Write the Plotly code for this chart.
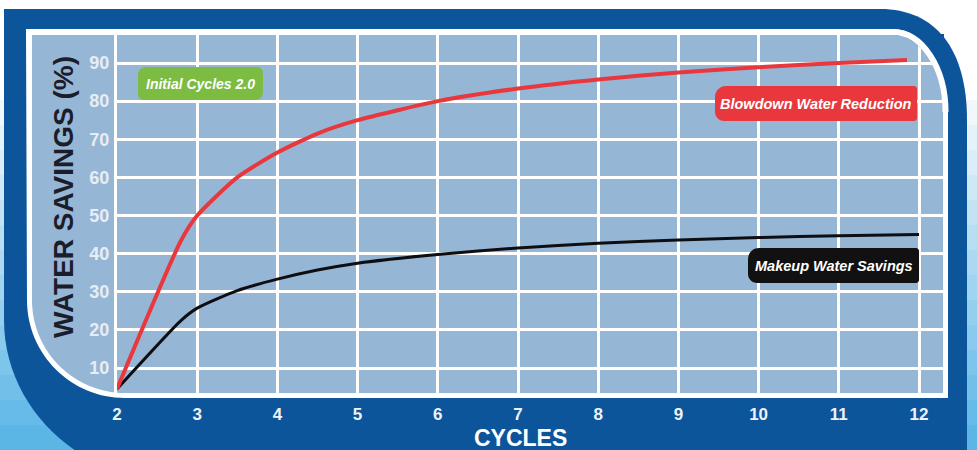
import plotly.graph_objects as go

# ---------------- data ----------------
cycles_blowdown = [2, 2.8, 3, 3.5, 4, 4.5, 5, 6, 7, 8, 9, 10, 11, 11.85]
blowdown_reduction = [4.5, 43.5, 50, 60, 66.5, 71.5, 75, 80, 83.3, 85.7, 87.5, 88.9, 90, 90.8]
cycles_makeup = [2, 2.8, 3, 3.5, 4, 4.5, 5, 6, 7, 8, 9, 10, 11, 12]
makeup_savings = [4.5, 22.5, 25.7, 30.3, 33.3, 35.7, 37.5, 39.8, 41.5, 42.7, 43.6, 44.2, 44.7, 45]
x_ticks = [2, 3, 4, 5, 6, 7, 8, 9, 10, 11, 12]
y_ticks = [10, 20, 30, 40, 50, 60, 70, 80, 90]
label_initial = "Initial Cycles 2.0"
label_blowdown = "Blowdown Water Reduction"
label_makeup = "Makeup Water Savings"
x_title = "CYCLES"
y_title = "WATER SAVINGS (%)"

# ---------------- geometry helpers (pixel -> paper) ----------------
W, H = 977, 450
L, R, T, B = 117, 943, 35, 393
DARK = "#0d559b"
PLOT = "#96b6d5"
K = 0.5523


def px(x):
    return (x - L) / (R - L)


def py(y):
    return (B - y) / (B - T)


def P(x, y):
    return f"{px(x):.5f},{py(y):.5f}"


def arc(cx, cy, sx, sy, ex, ey, k=K):
    # quarter arc from S to E around centre C, as a cubic Bezier
    ux, uy = sx - cx, sy - cy
    vx, vy = ex - cx, ey - cy
    c1 = (sx + k * vx, sy + k * vy)
    c2 = (ex + k * ux, ey + k * uy)
    return f" C{P(*c1)} {P(*c2)} {P(ex, ey)}"


def rrect(x0, y0, x1, y1, r_tl, r_tr, r_br, r_bl):
    s = f"M{P(x0 + r_tl, y0)} L{P(x1 - r_tr, y0)}"
    if r_tr:
        s += arc(x1 - r_tr, y0 + r_tr, x1 - r_tr, y0, x1, y0 + r_tr)
    s += f" L{P(x1, y1 - r_br)}"
    if r_br:
        s += arc(x1 - r_br, y1 - r_br, x1, y1 - r_br, x1 - r_br, y1)
    s += f" L{P(x0 + r_bl, y1)}"
    if r_bl:
        s += arc(x0 + r_bl, y1 - r_bl, x0 + r_bl, y1, x0, y1 - r_bl)
    s += f" L{P(x0, y0 + r_tl)}"
    if r_tl:
        s += arc(x0 + r_tl, y0 + r_tl, x0, y0 + r_tl, x0 + r_tl, y0)
    return s + " Z"


shapes = []

# background gradient (white at top -> sky blue at bottom)
c_top = (247, 250, 252)
c_bot = (86, 180, 230)
n = 14
for i in range(n):
    y0 = 100 + i * 25
    t = (i + 0.5) / n
    col = tuple(int(c_top[j] + (c_bot[j] - c_top[j]) * t) for j in range(3))
    shapes.append(dict(type="rect", xref="paper", yref="paper", layer="below",
                       x0=px(-5), x1=px(W + 5), y0=py(y0 + 26), y1=py(y0),
                       fillcolor=f"rgb{col}", line_width=0))

# dark blue frame
frame = (f"M{P(4, 9)} L{P(880, 9)}" + arc(880, 120, 880, 9, 967, 120, 0.64)
         + f" L{P(967, 480)} L{P(154, 480)}" + arc(154, 320, 154, 470, 4, 320)
         + f" L{P(4, 9)} Z")
shapes.append(dict(type="path", xref="paper", yref="paper", layer="below",
                   path=frame, fillcolor=DARK, line_width=0))

# white border
white = (f"M{P(26, 29)} L{P(893, 29)}" + arc(893, 112, 893, 29, 948, 112)
         + f" L{P(948, 398)} L{P(125, 398)}" + arc(125, 300, 125, 398, 27, 300)
         + f" L{P(26, 29)} Z")
shapes.append(dict(type="path", xref="paper", yref="paper", layer="below",
                   path=white, fillcolor="white", line_width=0))

# light blue chart panel
panel = (f"M{P(32, 35)} L{P(893, 35)}" + arc(893, 112, 893, 35, 943, 112)
         + f" L{P(943, 393)} L{P(125, 393)}" + arc(125, 300, 125, 393, 32, 300)
         + f" L{P(32, 35)} Z")
shapes.append(dict(type="path", xref="paper", yref="paper", layer="below",
                   path=panel, fillcolor=PLOT, line_width=0))

# mask of the rounded top-right corner (above grid and lines)
mask = (f"M{P(893, 35)}" + arc(893, 112, 893, 35, 943, 112)
        + f" L{P(944, 112)} L{P(944, 34)} L{P(893, 34)} Z")
shapes.append(dict(type="path", xref="paper", yref="paper", layer="above",
                   path=mask, fillcolor=DARK, line_width=0))
stroke = f"M{P(893, 32)}" + arc(893, 112, 893, 32, 945.5, 112)
shapes.append(dict(type="path", xref="paper", yref="paper", layer="above",
                   path=stroke, line=dict(color="white", width=6)))

# label boxes
shapes.append(dict(type="path", xref="paper", yref="paper", layer="above",
                   path=rrect(138, 67, 263, 100, 8, 6, 8, 6),
                   fillcolor="#7cbc42", line_width=0))
shapes.append(dict(type="path", xref="paper", yref="paper", layer="above",
                   path=rrect(715, 86, 917, 121, 11, 3, 3, 9),
                   fillcolor="#e8383d", line_width=0))
shapes.append(dict(type="path", xref="paper", yref="paper", layer="above",
                   path=rrect(748, 248, 919, 283, 11, 3, 3, 9),
                   fillcolor="#111111", line_width=0))

fig = go.Figure()
fig.add_trace(go.Scatter(x=cycles_makeup, y=makeup_savings, mode="lines",
                         line=dict(color="#0e0e12", width=3, shape="spline", smoothing=0.6),
                         name=label_makeup, showlegend=False, hoverinfo="x+y"))
fig.add_trace(go.Scatter(x=cycles_blowdown, y=blowdown_reduction, mode="lines",
                         line=dict(color="#e8383d", width=4, shape="spline", smoothing=0.6),
                         name=label_blowdown, showlegend=False, hoverinfo="x+y"))

ann_font = dict(family="Liberation Sans", color="white", size=14.5)
annotations = [
    dict(xref="paper", yref="paper", x=px(200.5), y=py(84), text=f"<b><i>{label_initial}</i></b>",
         showarrow=False, font=dict(family="Liberation Sans", color="white", size=14),
         xanchor="center", yanchor="middle"),
    dict(xref="paper", yref="paper", x=px(816), y=py(104), text=f"<b><i>{label_blowdown}</i></b>",
         showarrow=False, font=ann_font, xanchor="center", yanchor="middle"),
    dict(xref="paper", yref="paper", x=px(834), y=py(266), text=f"<b><i>{label_makeup}</i></b>",
         showarrow=False, font=ann_font, xanchor="center", yanchor="middle"),
    dict(xref="paper", yref="paper", x=px(520), y=py(438), text=f"<b>{x_title}</b>",
         showarrow=False, font=dict(family="Liberation Sans", color="white", size=23),
         xanchor="center", yanchor="middle"),
    dict(xref="paper", yref="paper", x=px(63), y=py(197), text=f"<b>{y_title}</b>", textangle=-90,
         showarrow=False, font=dict(family="Liberation Sans", color="#1b1d2b", size=28),
         xanchor="center", yanchor="middle"),
]

x_per_px = 10 / (919 - 117)
y_per_px = 80 / (368 - 63)
x_range = [2, 2 + (R - L) * x_per_px]
y0_val = 90 - (B - 63) * y_per_px
y1_val = 90 + (63 - T) * y_per_px

fig.update_layout(
    width=W, height=H, autosize=False,
    margin=dict(l=L, r=W - R, t=T, b=H - B, pad=0),
    paper_bgcolor="white", plot_bgcolor="rgba(0,0,0,0)",
    shapes=shapes, annotations=annotations, showlegend=False,
    xaxis=dict(range=x_range, tickvals=x_ticks, showgrid=True, gridcolor="white", gridwidth=3,
               zeroline=False, showline=False, ticks="outside", ticklen=6,
               tickcolor="rgba(0,0,0,0)",
               tickfont=dict(family="Liberation Sans", size=17, color="#eef3f8", weight="bold"),
               fixedrange=True),
    yaxis=dict(range=[y0_val, y1_val], tickvals=y_ticks, showgrid=True, gridcolor="white", gridwidth=3,
               zeroline=False, showline=True, linecolor="white", linewidth=3, ticks="outside",
               ticklen=1, tickcolor="rgba(0,0,0,0)",
               tickfont=dict(family="Liberation Sans", size=18, color="#e6edf5", weight="bold"),
               fixedrange=True),
)

fig.write_html("out.html", config={"displayModeBar": False},
               post_script="document.body.style.margin='0';document.body.style.overflow='hidden';")
